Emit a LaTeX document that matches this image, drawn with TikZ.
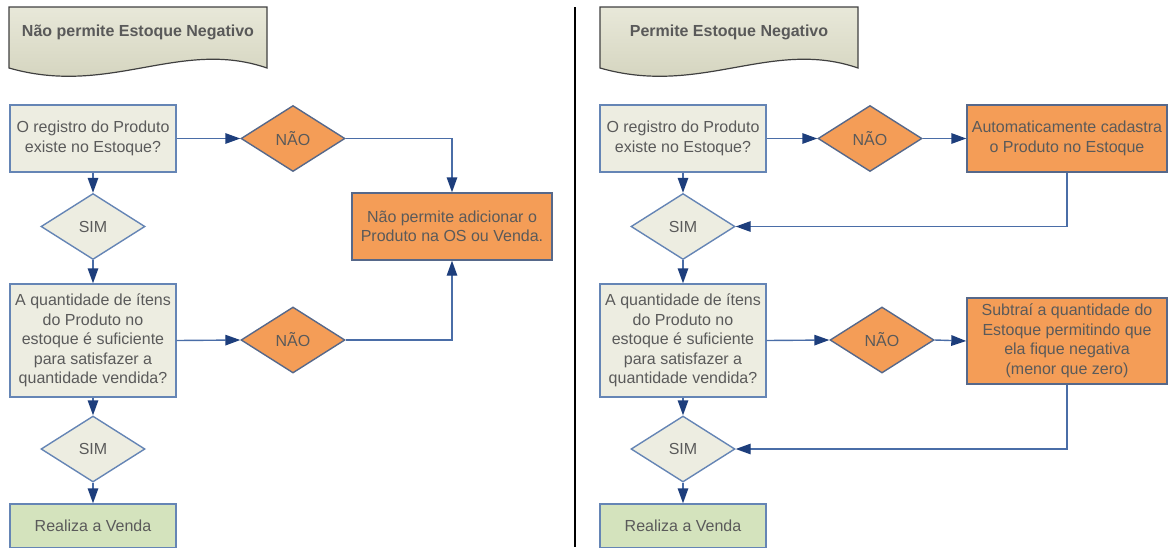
\documentclass[tikz,border=0pt]{standalone}
\usepackage{fontspec}
\setmainfont{Liberation Sans}
\usepackage{xcolor}
\usetikzlibrary{shapes.geometric, arrows.meta, positioning}
\definecolor{bege}{HTML}{EDEDE1}
\definecolor{laranja}{HTML}{F49D57}
\definecolor{verde}{HTML}{D4E3BD}
\definecolor{borda}{HTML}{6585B5}
\definecolor{bordaesc}{HTML}{56688A}
\definecolor{linha}{HTML}{4A6DA7}
\definecolor{ponta}{HTML}{1D3E7C}
\definecolor{texto}{HTML}{5A5A5A}
\definecolor{tituloA}{HTML}{E8E8D9}
\definecolor{tituloB}{HTML}{D0D0B9}

\begin{document}
\begin{tikzpicture}[x=1pt, y=-1pt, font=\fontsize{16}{19.5}\selectfont, text=texto,
    caixa/.style={draw=borda, line width=1.4pt, fill=bege, align=center, inner sep=2pt, minimum width=166pt},
    acao/.style={draw=bordaesc, line width=1.4pt, fill=laranja, align=center, inner sep=2pt, minimum width=200pt},
    losango/.style={diamond, draw=borda, line width=1.4pt, fill=bege, inner sep=0pt, minimum width=104pt, minimum height=66pt},
    nao/.style={losango, draw=bordaesc, fill=laranja},
    seta/.style={draw=linha, line width=1.4pt, -{Triangle[length=15pt, width=10.5pt, color=ponta]}}]
  \useasboundingbox (0,0) rectangle (1169,547);

  % titulos
  \foreach \dx/\txt [count=\n] in {0/Não permite Estoque Negativo, 591/Permite Estoque Negativo} {
    \draw[draw=black!75, line width=1.2pt, top color=tituloA, bottom color=tituloB]
      (9+\dx,7) -- (267+\dx,7) -- (267+\dx,68) .. controls (180+\dx,38) and (110+\dx,97) .. (9+\dx,68) -- cycle;
    \node[font=\fontsize{16}{19.5}\selectfont\bfseries, text=black!65] (titulo\n) at (138+\dx,32) {\txt};
  }
  \draw[line width=2pt] (575,7) -- (575,547);

  % lado esquerdo
  \node[caixa, minimum height=67pt] (reg1) at (93,138.5) {O registro do Produto\\existe no Estoque?};
  \node[nao] (nao1) at (293,138.5) {NÃO};
  \node[acao, minimum height=67pt] (bloq) at (452,226.5) {Não permite adicionar o\\Produto na OS ou Venda.};
  \node[losango] (sim1) at (93,226.5) {SIM};
  \node[caixa, minimum height=113pt] (qtd1) at (93,340.5) {A quantidade de ítens\\do Produto no\\estoque é suficiente\\para satisfazer a\\quantidade vendida?};
  \node[nao] (nao2) at (293,340) {NÃO};
  \node[losango] (sim2) at (93,449) {SIM};
  \node[caixa, fill=verde, minimum height=44pt] (venda1) at (93,526) {Realiza a Venda};

  \draw[seta] (reg1.east) -- (nao1.west);
  \draw[seta] (nao1.east) -| (bloq.north);
  \draw[seta] (reg1.south) -- (sim1.north);
  \draw[seta] (sim1.south) -- (qtd1.north);
  \draw[seta] (qtd1.east) -- (nao2.west);
  \draw[seta] (nao2.east) -| (bloq.south);
  \draw[seta] (qtd1.south) -- (sim2.north);
  \draw[seta] (sim2.south) -- (venda1.north);

  % lado direito
  \node[caixa, minimum height=67pt] (reg2) at (683,138.5) {O registro do Produto\\existe no Estoque?};
  \node[nao] (nao3) at (870,138.5) {NÃO};
  \node[acao, minimum height=67pt] (cad) at (1067,138.5) {Automaticamente cadastra\\o Produto no Estoque};
  \node[losango] (sim3) at (683,226.5) {SIM};
  \node[caixa, minimum height=113pt] (qtd2) at (683,340.5) {A quantidade de ítens\\do Produto no\\estoque é suficiente\\para satisfazer a\\quantidade vendida?};
  \node[nao] (nao4) at (882,340) {NÃO};
  \node[acao, minimum height=86pt] (sub) at (1067,341) {Subtraí a quantidade do\\Estoque permitindo que\\ela fique negativa\\(menor que zero)};
  \node[losango] (sim4) at (683,449) {SIM};
  \node[caixa, fill=verde, minimum height=44pt] (venda2) at (683,526) {Realiza a Venda};

  \draw[seta] (reg2.east) -- (nao3.west);
  \draw[seta] (nao3.east) -- (cad.west);
  \draw[seta] (cad.south) |- (sim3.east);
  \draw[seta] (reg2.south) -- (sim3.north);
  \draw[seta] (sim3.south) -- (qtd2.north);
  \draw[seta] (qtd2.east) -- (nao4.west);
  \draw[seta] (nao4.east) -- (sub.west);
  \draw[seta] (sub.south) |- (sim4.east);
  \draw[seta] (qtd2.south) -- (sim4.north);
  \draw[seta] (sim4.south) -- (venda2.north);
\end{tikzpicture}
\end{document}
